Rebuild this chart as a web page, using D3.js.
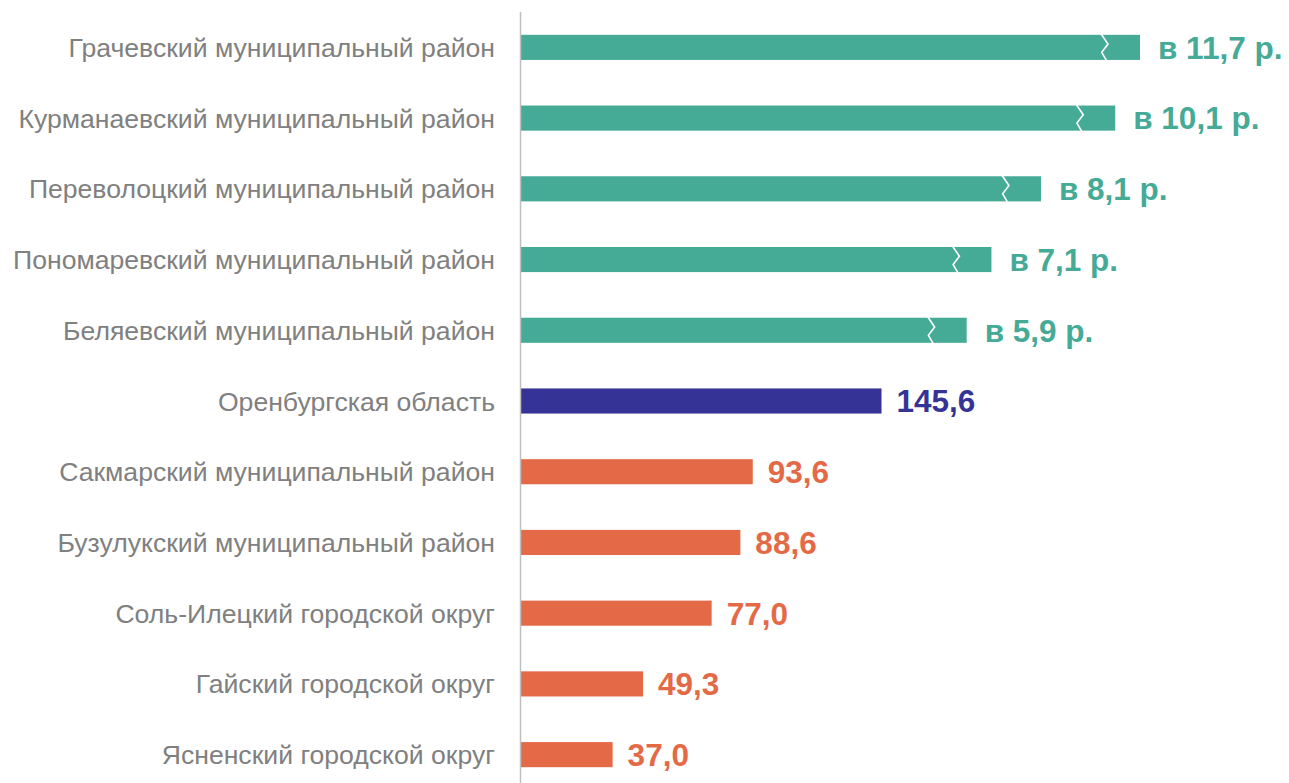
<!DOCTYPE html>
<html>
<head>
<meta charset="utf-8">
<script src="https://cdn.jsdelivr.net/npm/d3@7"></script>
<style>
  body { margin: 0; background: #ffffff; }
  svg { display: block; font-family: Arial, "Liberation Sans", sans-serif; }
</style>
</head>
<body>
<div id="chart"></div>
<script>
// categories, top to bottom
var categories = [
  "Грачевский муниципальный район",
  "Курманаевский муниципальный район",
  "Переволоцкий муниципальный район",
  "Пономаревский муниципальный район",
  "Беляевский муниципальный район",
  "Оренбургская область",
  "Сакмарский муниципальный район",
  "Бузулукский муниципальный район",
  "Соль-Илецкий городской округ",
  "Гайский городской округ",
  "Ясненский городской округ"
];
// bar length drawn (green bars are cut, see break marks)
var barValues = [250, 240, 210, 190, 180, 145.6, 93.6, 88.6, 77.0, 49.3, 37.0];
var valueLabels = ["в 11,7 р.", "в 10,1 р.", "в 8,1 р.", "в 7,1 р.", "в 5,9 р.",
                   "145,6", "93,6", "88,6", "77,0", "49,3", "37,0"];
// group: 0 = above (broken bars), 1 = region, 2 = below
var groups = [0, 0, 0, 0, 0, 1, 2, 2, 2, 2, 2];
var broken = [true, true, true, true, true, false, false, false, false, false, false];

var colors = ["#45AA96", "#363396", "#E46A47"];

var width = 1289, height = 783;

var svg = d3.select("#chart").append("svg")
  .attr("width", width)
  .attr("height", height);

var x = d3.scaleLinear()
  .domain([0, 250])
  .range([521, 1140]);

var y = d3.scaleBand()
  .domain(categories)
  .range([12, 790])
  .paddingInner(0.645)
  .paddingOuter(0.3225);

// bars
svg.append("g")
  .selectAll("rect")
  .data(categories)
  .enter().append("rect")
    .attr("x", x(0))
    .attr("y", function(d) { return y(d); })
    .attr("width", function(d, i) { return x(barValues[i]) - x(0); })
    .attr("height", y.bandwidth())
    .attr("fill", function(d, i) { return colors[groups[i]]; });

// break marks
var bh = y.bandwidth();
svg.append("g")
  .selectAll("path")
  .data(categories.filter(function(d, i) { return broken[i]; }))
  .enter().append("path")
    .attr("d", function(d) {
      var i = categories.indexOf(d);
      var bx = x(barValues[i]) - 39, by = y(d);
      return "M" + bx + "," + (by - 1) +
        " L" + (bx + 7) + "," + (by + bh * 0.37) +
        " L" + (bx + 0.7) + "," + (by + bh * 0.7) +
        " L" + (bx + 5.7) + "," + (by + bh + 1);
    })
    .attr("fill", "none")
    .attr("stroke", "#ffffff")
    .attr("stroke-width", 1.6);

// vertical axis line
svg.append("line")
  .attr("x1", 520.5).attr("x2", 520.5)
  .attr("y1", 12).attr("y2", height)
  .attr("stroke", "#BFBFBF")
  .attr("stroke-width", 1.5);

// category labels
svg.append("g")
  .selectAll("text")
  .data(categories)
  .enter().append("text")
    .attr("x", 495)
    .attr("y", function(d) { return y(d) + bh / 2; })
    .attr("dy", "0.36em")
    .attr("text-anchor", "end")
    .style("font-size", "26.6px")
    .style("fill", "#808080")
    .text(function(d) { return d; });

// value labels
svg.append("g")
  .selectAll("text")
  .data(categories)
  .enter().append("text")
    .attr("x", function(d, i) { return x(barValues[i]) + (broken[i] ? 18 : 15); })
    .attr("y", function(d) { return y(d) + bh / 2; })
    .attr("dy", "0.36em")
    .style("font-size", "31.5px")
    .style("font-weight", "bold")
    .style("fill", function(d, i) { return colors[groups[i]]; })
    .text(function(d, i) { return valueLabels[i]; });
</script>
</body>
</html>
